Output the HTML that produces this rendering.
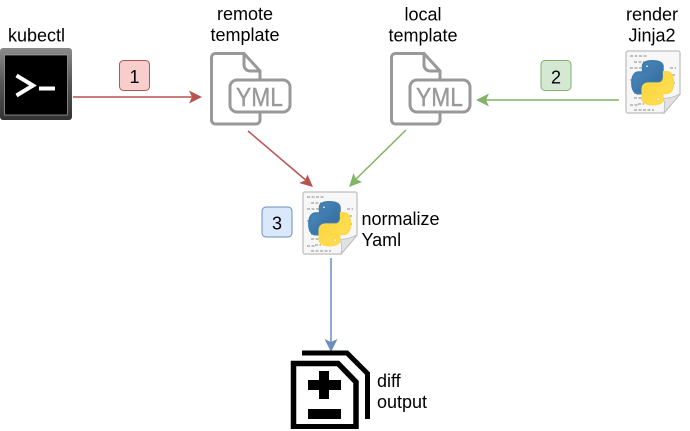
<!DOCTYPE html>
<html>
<head>
<meta charset="utf-8">
<style>
html,body{margin:0;padding:0;background:#fff;}
#c{position:relative;width:690px;height:431px;overflow:hidden;background:#fff;}
svg{position:absolute;left:0;top:0;}
text{font-family:"Liberation Sans",sans-serif;font-size:18px;fill:#000;}
</style>
</head>
<body>
<div id="c">
<svg width="690" height="431" viewBox="0 0 690 431" xmlns="http://www.w3.org/2000/svg">
<defs>
<linearGradient id="blue" x1="0" y1="0" x2="1" y2="1">
<stop offset="0" stop-color="#4f8fc4"/><stop offset="1" stop-color="#2f6595"/>
</linearGradient>
<linearGradient id="yel" x1="0" y1="0" x2="1" y2="1">
<stop offset="0" stop-color="#ffe45c"/><stop offset="1" stop-color="#fdd035"/>
</linearGradient>
<linearGradient id="term" x1="0" y1="0" x2="0" y2="1">
<stop offset="0" stop-color="#8a8a8a"/><stop offset="0.5" stop-color="#555"/><stop offset="1" stop-color="#333"/>
</linearGradient>
<g id="yml">
<path d="M1.5 5.5a4 4 0 0 1 4-4H34L50 19V68a4 4 0 0 1-4 4H5.5a4 4 0 0 1-4-4Z" fill="#fff" stroke="#999" stroke-width="3"/>
<path d="M34 1.5V13a6 6 0 0 0 6 6H50" fill="none" stroke="#999" stroke-width="3"/>
<rect x="20" y="28" width="60" height="32" rx="7" fill="#fff" stroke="#999" stroke-width="3"/>
<text x="26" y="54" textLength="47" lengthAdjust="spacingAndGlyphs" style="font-size:26px;fill:#999;stroke:#999;stroke-width:0.4;">YML</text>
</g>
<g id="py">
<path d="M2 3a2 2 0 0 1 2-2H54a2 2 0 0 1 2 2V44L40 63H4a2 2 0 0 1-2-2Z" fill="#f7f7f7" stroke="#c8c8c8" stroke-width="1.5"/>
<path d="M56 44 40 63C41 55 41 50 38 48 44 49 50 47 56 44Z" fill="#e2e2e2" stroke="#bbb" stroke-width="0.8"/>
<g stroke="#8a8a8a" stroke-width="1" stroke-dasharray="3 1.5" fill="none">
<path d="M6 6H24M10 12H24M6 18H22M10 24H30M6 30H10M46 18H52M48 25H52M48 33H52M10 43H14M10 48H18M14 54H20M6 55H14M10 60H30"/>
</g>
<g transform="translate(8 11) scale(0.375 0.395)">
<path fill="url(#blue)" stroke="#3f7cae" stroke-width="5" d="M54.9 0C26.9 0 28.6 12.2 28.6 12.2l0 12.6H55.3v3.8H18C18 28.6 0 26.5 0 54.9c0 28.3 15.7 27.3 15.7 27.3h9.4V69s-.5-15.7 15.5-15.7h26.6s15 .2 15-14.5V14.5S84.5 0 54.9 0zM40.1 8.5a4.8 4.8 0 1 1 0 9.6 4.8 4.8 0 0 1 0-9.6z"/>
<g transform="rotate(180 55 55)">
<path fill="url(#yel)" stroke="#fbd94a" stroke-width="5" d="M54.9 0C26.9 0 28.6 12.2 28.6 12.2l0 12.6H55.3v3.8H18C18 28.6 0 26.5 0 54.9c0 28.3 15.7 27.3 15.7 27.3h9.4V69s-.5-15.7 15.5-15.7h26.6s15 .2 15-14.5V14.5S84.5 0 54.9 0zM40.1 8.5a4.8 4.8 0 1 1 0 9.6 4.8 4.8 0 0 1 0-9.6z"/>
</g>
</g>
</g>
</defs>

<!-- labels -->
<text x="36.500" y="41.500" text-anchor="middle">kubectl</text>
<text x="245" y="20" text-anchor="middle">remote</text>
<text x="245" y="41" text-anchor="middle">template</text>
<text x="423" y="20.500" text-anchor="middle">local</text>
<text x="423" y="41.500" text-anchor="middle">template</text>
<text x="652" y="20.500" text-anchor="middle">render</text>
<text x="652" y="41.500" text-anchor="middle">Jinja2</text>
<text x="361.500" y="225">normalize</text>
<text x="361.500" y="246">Yaml</text>
<text x="377" y="387">diff</text>
<text x="377" y="408">output</text>

<!-- kubectl -->
<rect x="0" y="48" width="72" height="72" rx="3" fill="url(#term)"/>
<rect x="4.500" y="55" width="63" height="60" fill="#000" stroke="#aaa" stroke-width="0.7"/>
<path d="M16.500 75.500 33 85.500 16.500 95.500" fill="none" stroke="#fff" stroke-width="4"/>
<path d="M39 88.500H55" stroke="#fff" stroke-width="4"/>

<!-- YML docs -->
<use href="#yml" x="210" y="52"/>
<use href="#yml" x="390" y="52"/>

<!-- python docs -->
<use href="#py" x="624" y="50"/>
<use href="#py" x="301" y="191"/>

<!-- connectors -->
<g fill="none" stroke-width="1.500">
<path d="M73 97H196" stroke="#b85450"/>
<path d="M619 100H482" stroke="#82b366"/>
<path d="M248 131 308 182" stroke="#b85450"/>
<path d="M406 130 353 182" stroke="#82b366"/>
<path d="M331 258V346" stroke="#6c8ebf"/>
</g>
<path d="M202 97 189 90.500 192 97 189 103.500Z" fill="#b85450"/>
<path d="M476 100 489 93.500 486 100 489 106.500Z" fill="#82b366"/>
<path d="M313 187 299 183 305 180.500 307.500 174.500Z" fill="#b85450"/>
<path d="M349 187 353.500 173 356 179 362 182Z" fill="#82b366"/>
<path d="M331 352 324.500 339 331 342 337.500 339Z" fill="#6c8ebf"/>

<!-- badges -->
<rect x="119.500" y="60.500" width="30" height="30" rx="4" fill="#f8cecc" stroke="#b85450"/>
<text x="134.500" y="83" text-anchor="middle">1</text>
<rect x="541" y="60.500" width="30" height="30" rx="4" fill="#d5e8d4" stroke="#82b366"/>
<text x="556" y="83.500" text-anchor="middle">2</text>
<rect x="262" y="207" width="30" height="30" rx="4" fill="#dae8fc" stroke="#6c8ebf"/>
<text x="277" y="229.500" text-anchor="middle">3</text>

<!-- diff icon -->
<g fill="none" stroke="#000">
<path d="M302 353H347L367.500 373.500V419" stroke-width="5"/>
<path d="M293.500 429V363.500H338L356 382V429" stroke-width="5.500"/>
<path d="M291 426.500H358" stroke-width="5"/>
</g>
<path d="M319 371H329V380H341V390H329V399H319V390H308V380H319Z" fill="#000"/>
<rect x="308" y="409" width="33" height="10" fill="#000"/>
</svg>
</div>
</body>
</html>
